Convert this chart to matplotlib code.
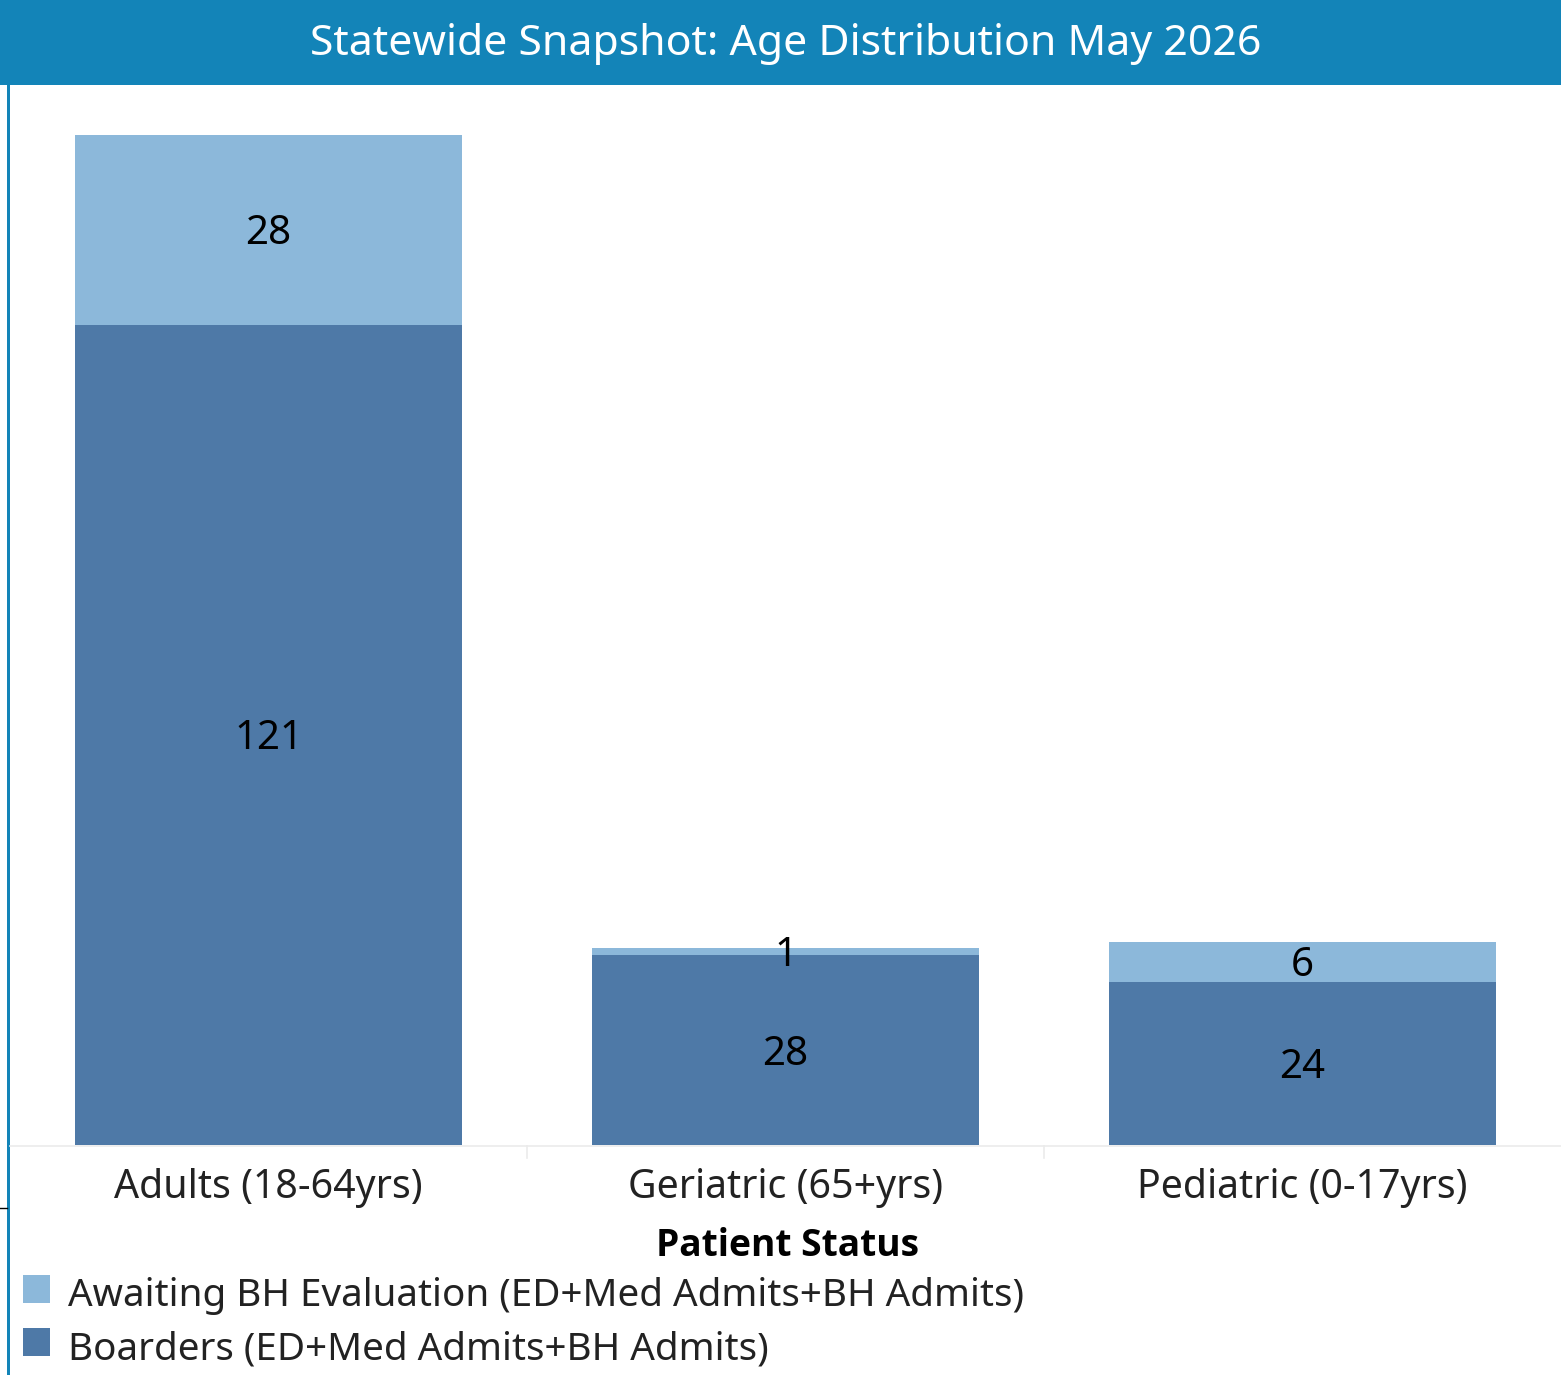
import matplotlib
matplotlib.use("Agg")
import matplotlib.pyplot as plt
from matplotlib.patches import Rectangle
import numpy as np

plt.rcParams["font.family"] = ["Noto Sans", "DejaVu Sans"]

TITLE = "Statewide Snapshot: Age Distribution May 2026"
CATEGORIES = ["Adults (18-64yrs)", "Geriatric (65+yrs)", "Pediatric (0-17yrs)"]
BOARDERS = [121, 28, 24]
AWAITING = [28, 1, 6]
SERIES = [
    ("Awaiting BH Evaluation (ED+Med Admits+BH Admits)", "#8CB8DA"),
    ("Boarders (ED+Med Admits+BH Admits)", "#4E79A7"),
]
BAR_BLUE = "#1384B8"

W, H = 1561, 1375


def main() -> None:
    fig = plt.figure(figsize=(W / 100, H / 100), dpi=100)

    # title bar and left rule
    fig.patches.append(Rectangle((0, 1 - 85 / H), 1, 85 / H, transform=fig.transFigure,
                                 facecolor=BAR_BLUE, edgecolor="none", zorder=0))
    fig.patches.append(Rectangle((7 / W, 0), 3 / W, 1 - 85 / H, transform=fig.transFigure,
                                 facecolor=BAR_BLUE, edgecolor="none", zorder=0))
    fig.text(786 / W, 1 - 44 / H, TITLE, color="white", fontsize=30.8,
             ha="center", va="center")
    fig.add_artist(plt.Line2D([0, 7 / W], [1 - 1208 / H] * 2, color="black", lw=1))

    ax = fig.add_axes([10 / W, 1 - 1145 / H, 1 - 10 / W, (1145 - 85) / H])
    x = np.arange(len(CATEGORIES))
    boarders = np.array(BOARDERS)
    awaiting = np.array(AWAITING)
    width = 0.75
    ax.bar(x, boarders, width=width, color=SERIES[1][1], zorder=3)
    ax.bar(x, awaiting, bottom=boarders, width=width, color=SERIES[0][1], zorder=3)

    for i in range(len(x)):
        for val, mid in [(boarders[i], boarders[i] / 2),
                         (awaiting[i], boarders[i] + awaiting[i] / 2)]:
            ax.annotate(str(val), (x[i], mid), xytext=(0, -3.2), textcoords="offset points",
                        ha="center", va="center", fontsize=29, color="black", zorder=4)

    ax.set_xlim(-0.5, len(x) - 0.5)
    ax.set_ylim(0, (1145 - 85) / ((1145 - 135) / 149))
    ax.set_xticks([])
    ax.set_yticks([])
    for s in ax.spines.values():
        s.set_visible(False)

    # baseline and column separators
    fig.add_artist(plt.Line2D([10 / W, 1], [1 - 1146 / H] * 2, color="#EBEBEB", lw=1.2))
    for sep in [0.5, 1.5]:
        xs = ax.transData.transform((sep, 0))[0] / W
        fig.add_artist(plt.Line2D([xs, xs], [1 - 1146 / H, 1 - 1158 / H], color="#EBEBEB", lw=1.2))

    for i, cat in enumerate(CATEGORIES):
        xs = ax.transData.transform((x[i], 0))[0] / W
        fig.text(xs, 1 - 1188 / H, cat, ha="center", va="center", fontsize=28.3, color="#222222")

    fig.text(788 / W, 1 - 1246 / H, "Patient Status", ha="center", va="center",
             fontsize=26.7, fontweight="bold", color="black",
             family=["Open Sans", "DejaVu Sans"])

    for k, (label, color) in enumerate(SERIES):
        yc = 1289 + k * 53
        fig.patches.append(Rectangle((23 / W, 1 - (yc + 14) / H), 27 / W, 28 / H,
                                     transform=fig.transFigure, facecolor=color, edgecolor="none"))
        fig.text(68 / W, 1 - (yc + 7) / H, label, ha="left", va="center", fontsize=27.8,
                 color="#222222")

    fig.savefig("out.png", dpi=100)


if __name__ == "__main__":
    main()
